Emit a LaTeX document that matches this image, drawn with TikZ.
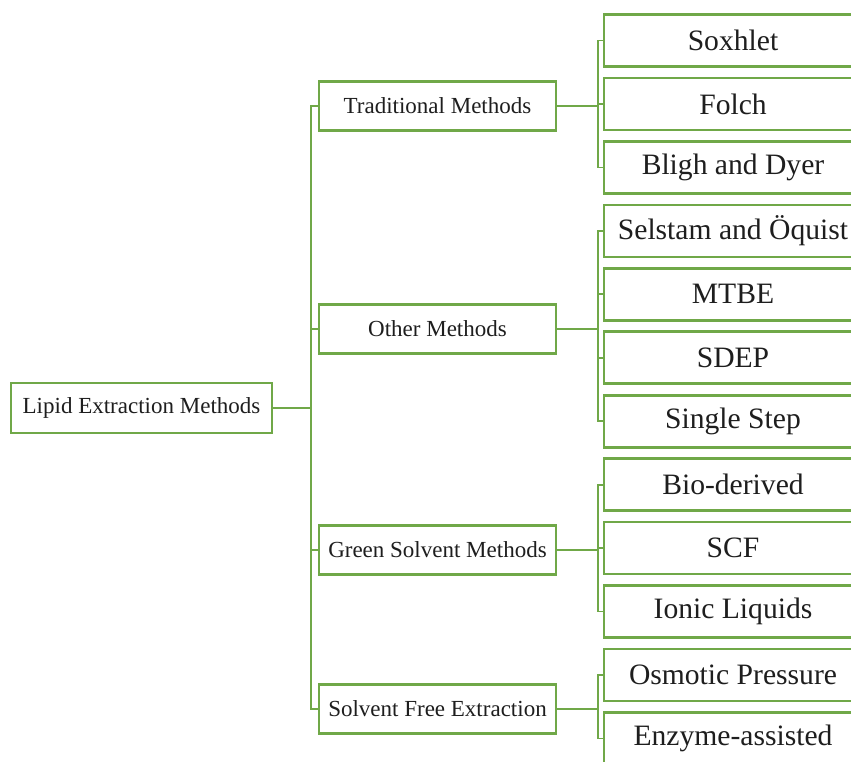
\documentclass[tikz,border=0pt]{standalone}
\usepackage{fontspec}
\setmainfont{Liberation Serif}
\usetikzlibrary{positioning}
\definecolor{boxgreen}{RGB}{112,168,72}
\definecolor{textgray}{RGB}{30,30,30}
\tikzset{
  base/.style={draw=boxgreen, line width=1.3pt, fill=white, text=textgray, inner sep=2pt},
  rootbox/.style={base, minimum width=130.5pt, minimum height=25pt, font=\fontsize{11.5}{13}\selectfont},
  groupbox/.style={base, minimum width=118.5pt, minimum height=24.5pt, font=\fontsize{11.5}{13}\selectfont},
  leafbox/.style={base, minimum width=129pt, minimum height=26pt, font=\fontsize{14.8}{17}\selectfont},
  link/.style={draw=boxgreen, line width=0.9pt}
}

\begin{document}
\begin{tikzpicture}[x=0.5pt,y=-0.5pt]
        \useasboundingbox (0,0) rectangle (851,761);
        % root and groups
        \node[rootbox] (root) at (141.5,408) {Lipid Extraction Methods};
        \node[groupbox] (trad) at (437.5,106) {Traditional Methods};
        \node[groupbox] (other) at (437.5,329) {Other Methods};
        \node[groupbox] (green) at (437.5,550) {Green Solvent Methods};
        \node[groupbox] (solvfree) at (437.5,709) {Solvent Free Extraction};
        % methods
        \foreach \i/\nm/\txt in {0/sox/Soxhlet,1/folch/Folch,2/bligh/Bligh and Dyer,
            3/selstam/Selstam and Öquist,4/mtbe/MTBE,5/sdep/SDEP,6/single/Single Step,
            7/bio/Bio-derived,8/scf/SCF,9/ionic/Ionic Liquids,
            10/osmotic/Osmotic Pressure,11/enzyme/Enzyme-assisted}
          \node[leafbox] (\nm) at (733,40.5+63.45*\i) {\txt};
        % connectors
        \foreach \g in {trad,other,green,solvfree}
          \draw[link] (root.east) -- ++(38,0) |- (\g.west);
        \foreach \g/\k in {trad/sox,trad/folch,trad/bligh,
            other/selstam,other/mtbe,other/sdep,other/single,
            green/bio,green/scf,green/ionic,
            solvfree/osmotic,solvfree/enzyme}
          \draw[link] (\g.east) -- ++(41,0) |- (\k.west);
\end{tikzpicture}
\end{document}
